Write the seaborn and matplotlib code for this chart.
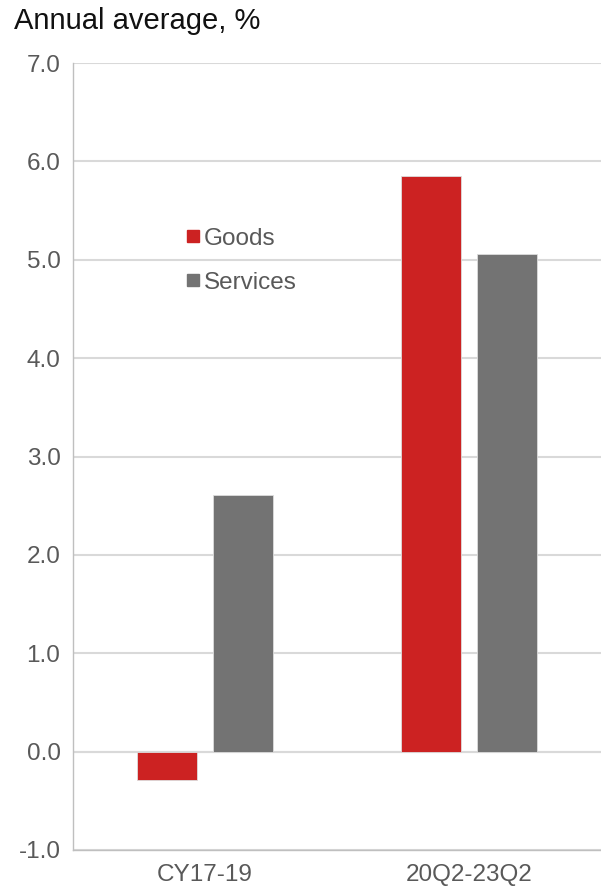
import matplotlib
matplotlib.use("Agg")
import matplotlib.pyplot as plt
import seaborn as sns
import pandas as pd
from matplotlib.lines import Line2D

categories = ["CY17-19", "20Q2-23Q2"]
series = ["Goods", "Services"]
goods = [-0.29, 5.85]
services = [2.61, 5.06]
yticks = [-1.0, 0.0, 1.0, 2.0, 3.0, 4.0, 5.0, 6.0, 7.0]

colors = {"Goods": "#CC2222", "Services": "#737373"}

df = pd.DataFrame({
    "cat": categories * 2,
    "series": ["Goods"] * 2 + ["Services"] * 2,
    "value": goods + services,
})

sns.set_theme(style="white")
plt.rcParams['font.family'] = ['Liberation Sans', 'DejaVu Sans']

fig = plt.figure(figsize=(6.01, 8.90), dpi=100)
ax = fig.add_axes([73/601, 40/890, 1 - 73/601, (850-63)/890])

sns.barplot(data=df, x="cat", y="value", hue="series", palette=colors,
            saturation=1, width=0.57, gap=0.2, ax=ax, legend=False, errorbar=None,
            edgecolor="#dddddd", linewidth=0.6, zorder=3)

ax.set_ylim(-1.0, 7.0)
ax.set_yticks(yticks)
ax.set_yticklabels([f"{t:.1f}" for t in yticks])
ax.set_xlim(-0.5, 1.5)
ax.yaxis.grid(True, color="#d9d9d9", linewidth=1.5, zorder=0)
ax.set_axisbelow(True)
ax.axhline(0, color="#d9d9d9", linewidth=1.5, zorder=1)
for s in ["top", "right"]:
    ax.spines[s].set_visible(False)
ax.spines["left"].set_color("#bfbfbf")
ax.spines["bottom"].set_color("#bfbfbf")
ax.spines["left"].set_linewidth(1.0)
ax.spines["bottom"].set_linewidth(1.0)
ax.tick_params(axis="both", length=0, labelsize=17.5, colors="#595959")
ax.tick_params(axis="y", pad=9)
ax.tick_params(axis="x", pad=10)
ax.set_xlabel("")
ax.set_ylabel("")

fig.text(14/601, 1 - 21/890, "Annual average, %", fontsize=21, color="#111111",
         ha="left", va="center")

handles = [Line2D([0], [0], marker="s", linestyle="none", markersize=9,
                  markerfacecolor=colors[s], markeredgecolor=colors[s]) for s in series]
fig.legend(handles, series, loc="upper left", bbox_to_anchor=(165/601, 1 - 218/890),
           frameon=False, fontsize=17.5, handletextpad=-0.3, labelspacing=0.9,
           labelcolor="#595959", borderaxespad=0, handlelength=1.5)

fig.savefig("out.png", dpi=100)
